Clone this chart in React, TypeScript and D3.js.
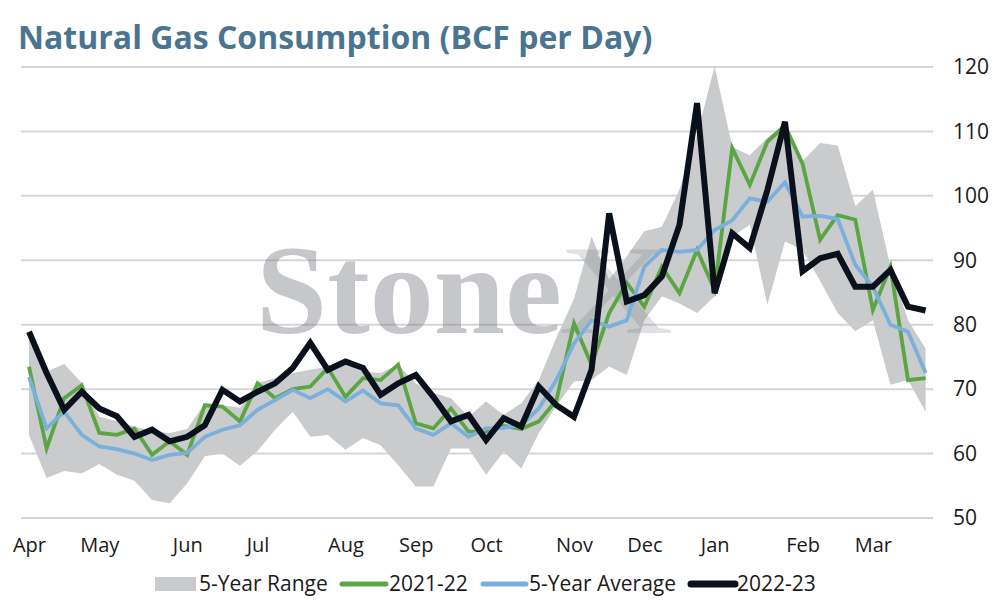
import * as d3 from 'd3';
import { useEffect, useRef } from 'react';

// weekly points, Apr through late Mar
const monthLabels = ['Apr', 'May', 'Jun', 'Jul', 'Aug', 'Sep', 'Oct', 'Nov', 'Dec', 'Jan', 'Feb', 'Mar'];
const monthWeek = [0, 4, 9, 13, 18, 22, 26, 31, 35, 39, 44, 48];
const yTicks = [50, 60, 70, 80, 90, 100, 110, 120];

const rangeMin = [
  62.9, 56.2, 57.3, 56.9, 58.4, 56.7, 55.8, 52.8, 52.3, 55.4,
  59.6, 60.0, 58.1, 60.4, 63.7, 66.5, 62.6, 62.9, 60.6, 62.4,
  61.3, 58.2, 54.9, 54.9, 60.8, 60.8, 56.7, 60.3, 57.7, 63.2,
  67.4, 71.2, 71.4, 73.5, 72.2, 80.7, 84.4, 83.3, 81.8, 84.4,
  93.7, 95.5, 83.1, 92.9, 91.6, 86.8, 81.8, 79.0, 80.7, 70.7,
  71.4, 66.5,
];
const rangeMax = [
  78.5, 72.7, 73.9, 71.0, 65.7, 65.0, 64.2, 63.5, 63.2, 63.8,
  67.8, 67.5, 67.1, 71.0, 71.7, 72.5, 73.0, 73.5, 74.0, 72.7,
  72.5, 73.8, 70.9, 69.4, 68.6, 65.7, 68.1, 66.0, 67.8, 71.4,
  78.0, 84.0, 93.7, 87.0, 90.6, 94.5, 95.2, 101.0, 109.5, 120.1,
  107.6, 106.3, 109.0, 111.2, 105.4, 108.2, 107.8, 98.4, 101.0, 89.0,
  80.7, 76.3,
];
const season2122 = [
  73.5, 60.8, 68.6, 70.6, 63.2, 62.9, 63.9, 59.8, 61.9, 59.8,
  67.5, 67.3, 65.0, 70.9, 68.6, 70.0, 70.4, 73.3, 68.8, 71.7,
  71.4, 73.8, 64.7, 63.9, 67.0, 63.4, 63.4, 64.3, 63.8, 65.0,
  68.3, 80.2, 73.8, 81.8, 86.5, 82.8, 89.0, 84.9, 91.6, 85.4,
  107.4, 101.7, 108.4, 110.9, 105.0, 93.2, 97.0, 96.3, 82.3, 89.0,
  71.4, 71.7,
];
const fiveYearAvg = [
  71.9, 63.9, 66.5, 62.9, 61.1, 60.7, 60.0, 59.0, 59.8, 60.1,
  62.6, 63.7, 64.4, 66.8, 68.3, 69.9, 68.6, 70.0, 68.1, 69.8,
  67.8, 67.5, 63.9, 62.9, 64.7, 62.6, 63.9, 64.0, 64.4, 67.0,
  71.4, 77.1, 80.7, 79.7, 80.7, 89.0, 91.6, 91.3, 91.6, 94.7,
  96.2, 99.6, 99.1, 102.1, 96.8, 96.9, 96.4, 89.3, 85.9, 80.0,
  78.9, 72.5,
];
const season2223 = [
  78.9, 72.5, 66.8, 69.6, 67.0, 65.8, 62.6, 63.7, 61.9, 62.6,
  64.4, 69.9, 68.1, 69.6, 70.9, 73.3, 77.2, 73.0, 74.3, 73.3,
  69.1, 70.9, 72.2, 68.8, 65.0, 66.0, 62.1, 65.5, 64.2, 70.4,
  67.5, 65.7, 73.0, 97.3, 83.6, 84.6, 87.5, 95.5, 114.4, 84.9,
  94.2, 91.9, 100.9, 111.5, 88.3, 90.3, 91.0, 85.9, 85.9, 88.5,
  82.8, 82.2,
];

const W = 994;
const H = 600;
const FONT = '"Open Sans", Lato, sans-serif';

export default function App() {
  const svgRef = useRef<SVGSVGElement>(null);

  useEffect(() => {
    if (!svgRef.current) return;
    const svg = d3.select(svgRef.current);
    svg.selectAll('*').remove();

    const x = d3.scaleLinear().domain([0, season2223.length - 1]).range([29, 925.6]);
    const y = d3.scaleLinear().domain([50, 120]).range([518, 67]);

    // title
    svg
      .append('text')
      .attr('x', 18)
      .attr('y', 49)
      .attr('font-family', FONT)
      .attr('font-weight', 700)
      .attr('font-size', 32)
      .attr('fill', '#4a7591')
      .text('Natural Gas Consumption (BCF per Day)');

    // gridlines
    svg
      .append('g')
      .selectAll('line')
      .data(yTicks)
      .enter()
      .append('line')
      .attr('x1', 21)
      .attr('x2', 933)
      .attr('y1', (d) => y(d))
      .attr('y2', (d) => y(d))
      .attr('stroke', '#d6d6d6')
      .attr('stroke-width', 2);

    // 5-year range band
    const band = d3
      .area<number>()
      .x((_, i) => x(i))
      .y0((_, i) => y(rangeMin[i]))
      .y1((d) => y(d));
    svg.append('path').datum(rangeMax).attr('d', band).attr('fill', '#c9cbcc');

    // watermark
    const wm = svg.append('g').attr('font-family', '"Liberation Serif", serif');
    wm.append('text').attr('x', 256).attr('y', 333).attr('font-size', 128).attr('font-weight', 700).attr('fill', '#6b6e75').attr('opacity', 0.38).text('Stone');
    wm.append('text')
      .attr('transform', 'translate(558,333) scale(1.25,1)')
      .attr('font-size', 128)
      .attr('fill', '#6b6e75')
      .attr('opacity', 0.2)
      .text('X');

    const line = d3
      .line<number>()
      .x((_, i) => x(i))
      .y((d) => y(d));

    svg.append('path').datum(season2122).attr('d', line).attr('fill', 'none').attr('stroke', '#5ba543').attr('stroke-width', 3.8);
    svg.append('path').datum(fiveYearAvg).attr('d', line).attr('fill', 'none').attr('stroke', '#7ab0db').attr('stroke-width', 3.8);
    svg.append('path').datum(season2223).attr('d', line).attr('fill', 'none').attr('stroke', '#0a111c').attr('stroke-width', 6);

    // x axis (month labels)
    const xAxis = svg
      .append('g')
      .attr('transform', 'translate(0,533)')
      .call(
        d3
          .axisBottom(x)
          .tickValues(monthWeek)
          .tickSize(0)
          .tickPadding(0)
          .tickFormat((_, i) => monthLabels[i]),
      );
    xAxis.select('.domain').remove();
    xAxis.selectAll('text').attr('font-family', FONT).attr('font-size', 20).attr('fill', '#1a1a1a').attr('dy', '0.95em');

    // y axis on the right
    const yAxis = svg
      .append('g')
      .attr('transform', 'translate(953,0)')
      .call(d3.axisRight(y).tickValues(yTicks).tickSize(0).tickPadding(0));
    yAxis.select('.domain').remove();
    yAxis.selectAll('text').attr('font-family', FONT).attr('font-size', 21).attr('fill', '#1a1a1a');

    // legend
    const lg = svg.append('g').attr('font-family', FONT).attr('font-size', 21).attr('fill', '#1a1a1a');
    const ly = 584;
    lg.append('rect').attr('x', 155).attr('y', ly - 7).attr('width', 41).attr('height', 14).attr('fill', '#c9cbcc');
    lg.append('text').attr('x', 199).attr('y', ly).attr('dy', '0.35em').text('5-Year Range');
    lg.append('line').attr('x1', 342).attr('x2', 386).attr('y1', ly).attr('y2', ly).attr('stroke', '#5ba543').attr('stroke-width', 5).attr('stroke-linecap', 'round');
    lg.append('text').attr('x', 389).attr('y', ly).attr('dy', '0.35em').text('2021-22');
    lg.append('line').attr('x1', 483).attr('x2', 526).attr('y1', ly).attr('y2', ly).attr('stroke', '#7ab0db').attr('stroke-width', 5).attr('stroke-linecap', 'round');
    lg.append('text').attr('x', 529).attr('y', ly).attr('dy', '0.35em').text('5-Year Average');
    lg.append('line').attr('x1', 691).attr('x2', 735).attr('y1', ly).attr('y2', ly).attr('stroke', '#0a111c').attr('stroke-width', 7).attr('stroke-linecap', 'round');
    lg.append('text').attr('x', 737).attr('y', ly).attr('dy', '0.35em').text('2022-23');
  }, []);

  return (
    <svg
      ref={svgRef}
      width={W}
      height={H}
      style={{ position: 'absolute', left: 0, top: 0, background: '#fff' }}
    ></svg>
  );
}
